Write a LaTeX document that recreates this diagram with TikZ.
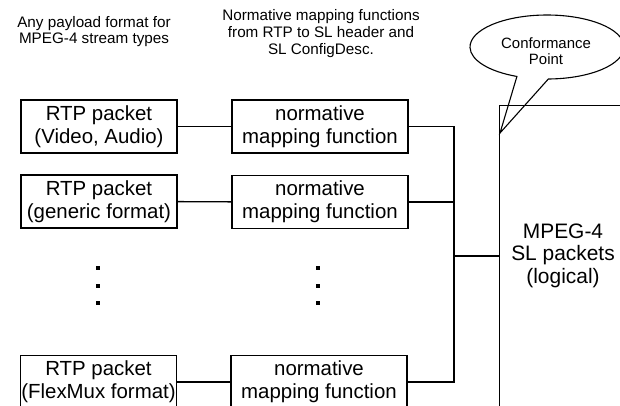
\documentclass[tikz,border=0pt]{standalone}
\usepackage{fontspec}
\setmainfont{Liberation Sans}
\newcommand{\boxfont}{\fontsize{20.5}{23}\selectfont}
\newcommand{\capfont}{\fontsize{15.3}{16.8}\selectfont}
\begin{document}
\begin{tikzpicture}[x=1bp,y=-1bp,line width=1.4bp,
  pkt/.style={draw,minimum width=156bp,minimum height=53bp,inner sep=0pt,align=center,font=\boxfont},
  mapfn/.style={draw,minimum width=176bp,minimum height=53bp,inner sep=0pt,align=center,font=\boxfont},
  caption/.style={align=center,font=\capfont,inner sep=0pt},
  dot/.style={rectangle,fill,inner sep=0pt,minimum size=3.8bp}]
\useasboundingbox (0,0) rectangle (620,405);
\clip (0,0) rectangle (620,405);

% column captions
\node[caption] (capA) at (94,31.5) {Any payload format for\\MPEG-4 stream types};
\node[caption] (capB) at (321,33.5) {Normative mapping functions\\from RTP to SL header and\\SL ConfigDesc.};

% payload packets
\node[pkt] (r1) at (99,126.5) {RTP packet\\(Video, Audio)};
\node[pkt] (r2) at (99,201.5) {RTP packet\\(generic format)};
\node[pkt] (r3) at (98.5,382) {RTP packet\\(FlexMux format)};

% mapping functions
\node[mapfn] (n1) at (320,126.5) {normative\\mapping function};
\node[mapfn] (n2) at (320,202) {normative\\mapping function};
\node[mapfn] (n3) at (319,382) {normative\\mapping function};

% elided rows
\foreach \yy/\k in {268/1,286/2,303/3}{
  \node[dot] (dl\k) at (98,\yy) {};
  \node[dot] (dr\k) at (318,\yy) {};
}

% SL packet stream
\node[draw,anchor=north west,minimum width=140bp,minimum height=330bp,inner sep=0pt] (sl) at (499,105) {};
\node[align=center,font=\fontsize{21}{22.5}\selectfont,inner sep=0pt] (sltext) at (563,255.5) {MPEG-4\\SL packets\\(logical)};

% connectors
\coordinate (busT) at (454,126.5);
\coordinate (busB) at (454,382);
\coordinate (jn) at (454,256);
\draw (r1) -- (n1);
\draw (r2) -- (n2);
\draw (r3) -- (n3);
\draw (n1) -- (busT) -- (busB) -- (n3);
\draw (n2.east) -- (n2.east -| busT);
\draw (jn) -- (jn -| sl.west);

% conformance point callout
\coordinate (cc) at (547,47);
\coordinate (tip) at (500,133);
\node[font=\fontsize{15}{16.5}\selectfont,align=center,inner sep=0pt] (cp) at (546,51) {Conformance\\Point};
\draw[line width=1.1bp] (cc) ++(271:77bp and 32bp)
  arc[start angle=271,end angle=607,x radius=77bp,y radius=32bp] -- (tip) -- cycle;
\end{tikzpicture}
\end{document}
